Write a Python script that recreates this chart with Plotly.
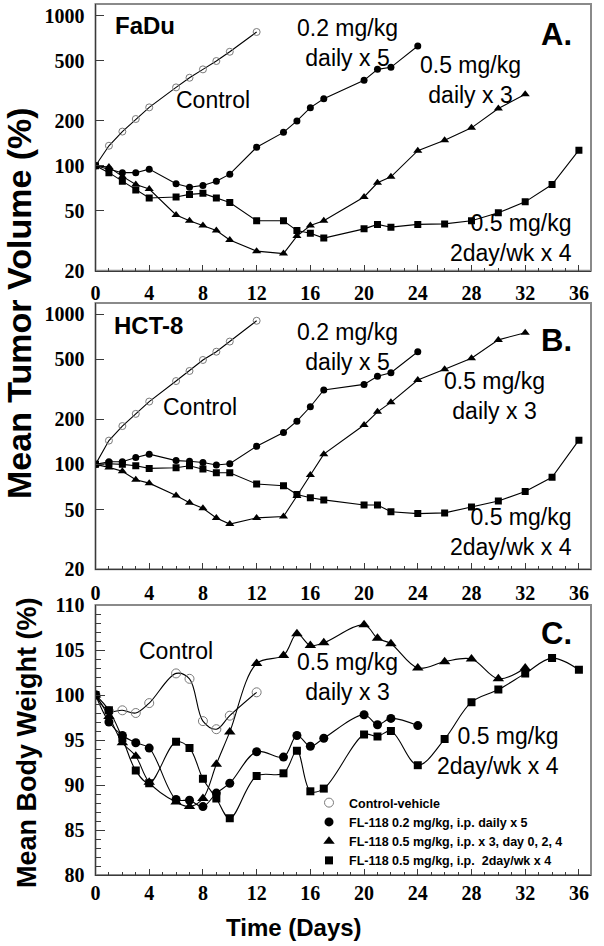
import plotly.graph_objects as go
import math

# ---------------- data ----------------
ctrl_days = [0, 1, 2, 3, 4, 6, 7, 8, 9, 10, 12]
d02_days = [0, 1, 2, 3, 4, 6, 7, 8, 9, 10, 12, 14, 15, 16, 17, 20, 21, 22, 24]
d05_days = [0, 1, 2, 3, 4, 6, 7, 8, 9, 10, 12, 14, 15, 16, 17, 20, 21, 22, 24, 26, 28, 30, 32]
w05_days = [0, 1, 2, 3, 4, 6, 7, 8, 9, 10, 12, 14, 15, 16, 17, 20, 21, 22, 24, 26, 28, 30, 32, 34, 36]

# A. FaDu tumor volume (%)
fadu_ctrl = [100, 136, 169, 205, 245, 333, 386, 439, 499, 575, 779]
fadu_02 = [100, 95, 90, 90, 95, 76, 72, 74, 79, 88, 133, 167, 199, 244, 280, 371, 439, 453, 628]
fadu_05d = [100, 98, 85, 75, 70, 47, 43, 40, 37, 32, 27, 26, 34, 40, 43, 62, 77, 84.5, 126, 148, 179, 241, 300]
fadu_05w = [100, 90, 79, 69, 61, 62, 64.5, 65.5, 61, 57, 43, 43, 37, 35.5, 33, 38, 40.7, 39, 40.7, 41, 43, 48.6, 57.5, 75, 127]

# B. HCT-8 tumor volume (%)
hct_ctrl = [100, 144, 180, 217, 262, 359, 419, 496, 563, 658, 905]
hct_02 = [100, 104, 104, 111, 117, 106, 105, 103, 99, 101, 132, 163, 194, 242, 313, 341, 386, 408, 563]
hct_05d = [100, 95.5, 90, 79, 75, 62, 55.5, 51, 44, 40, 44, 45, 61.5, 85, 117, 183, 224, 259, 365, 430, 509, 675, 754]
hct_05w = [100, 101, 100, 98, 94, 95, 98, 93, 88, 88, 74, 72, 63, 60, 58, 53.6, 53.6, 48.4, 47, 47.5, 52, 57, 66, 82, 145]

# C. body weight (%)
bw_ctrl = [100, 98.2, 98.3, 98.0, 99.1, 102.4, 101.8, 97.1, 96.2, 97.7, 100.3]
bw_02 = [100, 97.0, 95.5, 94.7, 94.1, 88.4, 88.3, 87.6, 89.1, 90.2, 93.7, 93.1, 95.5, 94.3, 95.2, 97.8, 96.7, 97.4, 96.6]
bw_05d = [100, 97.6, 94.7, 93.2, 90.3, 88.1, 87.6, 88.5, 92.3, 95.9, 103.5, 104.4, 106.8, 105.5, 105.8, 107.8, 106.3, 105.7, 103.0, 103.7, 104.0, 101.8, 103.0]
bw_05w = [100, 98.3, 95.2, 91.6, 90.2, 94.8, 94.1, 90.7, 88.5, 86.3, 91.0, 91.3, 93.8, 89.3, 89.6, 95.6, 95.4, 96.0, 92.2, 95.1, 99.2, 100.6, 102.4, 104.1, 102.8]

x_ticks = [0, 4, 8, 12, 16, 20, 24, 28, 32, 36]
tv_ticks = [20, 50, 100, 200, 500, 1000]
bw_ticks = [80, 85, 90, 95, 100, 105, 110]

legend_names = [
    "<b>Control-vehicle</b>",
    "<b>FL-118 0.2 mg/kg, i.p. daily x 5</b>",
    "<b>FL-118 0.5 mg/kg, i.p. x 3, day 0, 2, 4</b>",
    "<b>FL-118 0.5 mg/kg, i.p.&nbsp; 2day/wk x 4</b>",
]

# ---------------- layout helpers ----------------
W, H = 604, 946
def px(x):
    return x / W
def py(y):
    return 1 - y / H

X0, X1 = 95.5, 591
A_top, A_bot = 4, 270.7
B_top, B_bot = 303, 569.3
C_top, C_bot = 605, 875

fig = go.Figure()

def mk(symbol, size, open_=False):
    if open_:
        return dict(symbol="circle-open", size=size, color="#7a7a7a", line=dict(width=1, color="#7a7a7a"))
    return dict(symbol=symbol, size=size, color="black", line=dict(width=0))

def add(days, vals, xa, ya, symbol, size, open_=False, spline=False):
    fig.add_trace(go.Scatter(
        x=days, y=vals, xaxis=xa, yaxis=ya, mode="lines+markers",
        line=dict(color="black", width=1.1, shape="spline" if spline else "linear", smoothing=1.0),
        marker=mk(symbol, size, open_), showlegend=False, hoverinfo="x+y"))

# Panel A
add(ctrl_days, fadu_ctrl, "x", "y", "circle", 7, open_=True)
add(d02_days, fadu_02, "x", "y", "circle", 7)
add(d05_days, fadu_05d, "x", "y", "triangle-up", 8)
add(w05_days, fadu_05w, "x", "y", "square", 7)
# Panel B
add(ctrl_days, hct_ctrl, "x2", "y2", "circle", 7, open_=True)
add(d02_days, hct_02, "x2", "y2", "circle", 7)
add(d05_days, hct_05d, "x2", "y2", "triangle-up", 8)
add(w05_days, hct_05w, "x2", "y2", "square", 7)
# Panel C
add(ctrl_days, bw_ctrl, "x3", "y3", "circle", 9, open_=True, spline=True)
add(d02_days, bw_02, "x3", "y3", "circle", 9, spline=True)
add(d05_days, bw_05d, "x3", "y3", "triangle-up", 10, spline=True)
add(w05_days, bw_05w, "x3", "y3", "square", 8, spline=True)

# legend entries (markers only)
leg_markers = [mk("circle", 9, True), mk("circle", 9), mk("triangle-up", 10), mk("square", 8)]
for name, m in zip(legend_names, leg_markers):
    fig.add_trace(go.Scatter(x=[None], y=[None], xaxis="x3", yaxis="y3", mode="markers",
                             marker=m, name=name, showlegend=True))

tickfont = dict(family="Liberation Serif", size=20, color="black", weight="bold")
AXC = "#3a3a3a"

def xaxis_common(**kw):
    d = dict(range=[0, 36.9], tickmode="array", tickvals=x_ticks, ticks="inside", ticklen=6,
             tickcolor=AXC, tickwidth=1, showgrid=False, zeroline=False, showline=True,
             linecolor=AXC, linewidth=1.2, tickfont=tickfont, domain=[px(X0), px(X1)],
             automargin=False,
             minor=dict(dtick=1, tick0=0, ticks="inside", ticklen=3, tickcolor=AXC, showgrid=False))
    d.update(kw)
    return d

def yaxis_log(top, bot, toprange):
    return dict(type="log", range=[math.log10(20), toprange], domain=[py(bot), py(top)],
                tickmode="array", tickvals=tv_ticks, ticktext=[str(v) for v in tv_ticks],
                ticks="inside", ticklen=8, tickcolor=AXC, showgrid=False, zeroline=False,
                showline=True, linecolor=AXC, linewidth=1.2, tickfont=tickfont,
                ticklabelstandoff=6, automargin=False)

fig.update_layout(
    width=W, height=H, margin=dict(l=0, r=0, t=0, b=0, autoexpand=False),
    paper_bgcolor="white", plot_bgcolor="white",
    xaxis=xaxis_common(anchor="y", showticklabels=True, ticklabelstandoff=4),
    xaxis2=xaxis_common(anchor="y2", showticklabels=True, ticklabelstandoff=6),
    xaxis3=xaxis_common(anchor="y3", showticklabels=True),
    yaxis=yaxis_log(A_top, A_bot, 3.078),
    yaxis2=yaxis_log(B_top, B_bot, 3.075),
    yaxis3=dict(range=[80, 110], domain=[py(C_bot), py(C_top)], tickmode="array", tickvals=bw_ticks,
                ticks="inside", ticklen=9, tickcolor=AXC, showgrid=False, zeroline=False,
                showline=True, linecolor=AXC, linewidth=1.2, tickfont=tickfont, ticklabelstandoff=6,
                automargin=False,
                minor=dict(dtick=1, tick0=80, ticks="inside", ticklen=5, tickcolor=AXC, showgrid=False)),
    legend=dict(x=px(309), y=py(788), xanchor="left", yanchor="top", bgcolor="rgba(0,0,0,0)",
                font=dict(family="Liberation Sans", size=12.5, color="black"), itemwidth=30,
                tracegroupgap=0, borderwidth=0),
    showlegend=True,
)

# gray frames
for xa, ya in [("x", "y"), ("x2", "y2"), ("x3", "y3")]:
    fig.add_shape(type="rect", xref=f"{xa} domain", yref=f"{ya} domain", x0=0, x1=1, y0=0, y1=1,
                  line=dict(color="#8a8a8a", width=2), layer="below")

anns = []
def txt(x, y, s, size=23, bold=False, align="center", xanchor="center"):
    anns.append(dict(x=px(x), y=py(y), xref="paper", yref="paper", text=s, showarrow=False,
                     xanchor=xanchor, yanchor="middle", align=align,
                     font=dict(family="Liberation Sans", size=size, color="black",
                               weight="bold" if bold else "normal")))

# Panel A
txt(145, 26, "FaDu", 24, True)
txt(556, 35, "A.", 31, True)
txt(213, 100, "Control")
txt(347, 43, "0.2 mg/kg<br>daily x 5")
txt(470, 80, "0.5 mg/kg<br>daily x 3")
txt(574, 238, "0.5 mg/kg<br>2day/wk x 4", align="right", xanchor="right")
# Panel B
txt(148, 325, "HCT-8", 24, True)
txt(556, 340, "B.", 31, True)
txt(200, 407, "Control")
txt(347, 347, "0.2 mg/kg<br>daily x 5")
txt(494, 396, "0.5 mg/kg<br>daily x 3")
txt(574, 532, "0.5 mg/kg<br>2day/wk x 4", align="right", xanchor="right")
# Panel C
txt(556, 633, "C.", 31, True)
txt(176, 651, "Control")
txt(347, 677, "0.5 mg/kg<br>daily x 3")
txt(561, 751, "0.5 mg/kg<br>2day/wk x 4", align="right", xanchor="right")

# axis titles
anns.append(dict(x=px(19), y=py(303), xref="paper", yref="paper", text="Mean Tumor Volume (%)",
                 showarrow=False, textangle=-90, xanchor="center", yanchor="middle",
                 font=dict(family="Liberation Sans", size=34, color="black", weight="bold")))
anns.append(dict(x=px(27), y=py(743), xref="paper", yref="paper", text="Mean Body Weight (%)",
                 showarrow=False, textangle=-90, xanchor="center", yanchor="middle",
                 font=dict(family="Liberation Sans", size=27, color="black", weight="bold")))
anns.append(dict(x=px(294), y=py(927), xref="paper", yref="paper", text="Time (Days)",
                 showarrow=False, xanchor="center", yanchor="middle",
                 font=dict(family="Liberation Sans", size=24, color="black", weight="bold")))

fig.update_layout(annotations=anns)
fig.write_html("out.html", config={"displayModeBar": False},
               post_script="document.body.style.margin='0px';document.body.style.overflow='hidden';")
